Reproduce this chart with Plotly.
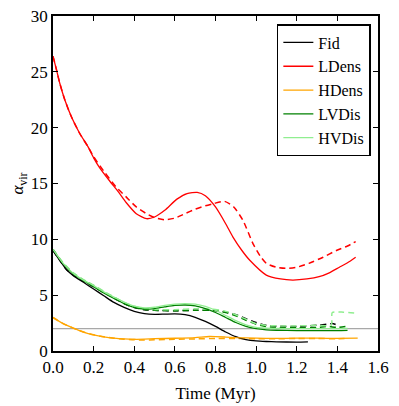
import plotly.graph_objects as go

# time grids (Myr) and virial parameter values
t_fid = [0.0, 0.03, 0.066, 0.1, 0.15, 0.2, 0.25, 0.3, 0.35, 0.4, 0.45, 0.5, 0.55, 0.6, 0.65,
         0.7, 0.75, 0.8, 0.85, 0.9, 0.95, 1.0, 1.05, 1.1, 1.2, 1.255]
fid = [9.0, 8.2, 7.3, 6.75, 6.15, 5.55, 4.95, 4.35, 3.9, 3.55, 3.35, 3.28, 3.3, 3.33, 3.25,
       3.02, 2.65, 2.2, 1.7, 1.28, 1.02, 0.9, 0.85, 0.82, 0.8, 0.82]

t_fid_d = [0.0, 0.03, 0.066, 0.1, 0.15, 0.2, 0.25, 0.3, 0.35, 0.4, 0.45, 0.5, 0.6, 0.7, 0.8,
           0.85, 0.9, 0.95, 1.0, 1.05, 1.1, 1.2, 1.3, 1.38, 1.4]
fid_d = [9.0, 8.2, 7.3, 6.8, 6.25, 5.75, 5.25, 4.75, 4.25, 3.9, 3.7, 3.65, 3.6, 3.65, 3.62,
         3.5, 3.25, 2.9, 2.55, 2.3, 2.22, 2.2, 2.3, 2.45, 2.3]

t_ld = [0.0, 0.017, 0.033, 0.058, 0.09, 0.131, 0.172, 0.2, 0.23, 0.28, 0.32, 0.36, 0.41, 0.46,
        0.5, 0.55, 0.61, 0.66, 0.71, 0.75, 0.8, 0.85, 0.886, 0.93, 0.97, 1.05, 1.12, 1.18,
        1.25, 1.31, 1.36, 1.41, 1.45, 1.49]
ldens = [26.4, 25.2, 24.0, 22.5, 21.0, 19.5, 18.3, 17.3, 16.4, 15.2, 14.3, 13.3, 12.3, 11.85,
         12.0, 12.6, 13.6, 14.1, 14.2, 13.9, 12.9, 11.4, 10.2, 9.0, 8.1, 6.8, 6.45, 6.35,
         6.45, 6.65, 7.0, 7.5, 7.9, 8.4]

t_ld_d = [0.0, 0.017, 0.033, 0.058, 0.09, 0.131, 0.172, 0.2, 0.25, 0.31, 0.36, 0.41, 0.46,
          0.5, 0.55, 0.6, 0.65, 0.7, 0.75, 0.79, 0.845, 0.89, 0.935, 0.985, 1.02, 1.05, 1.1,
          1.15, 1.2, 1.26, 1.33, 1.395, 1.45, 1.49]
ldens_d = [26.4, 25.2, 24.0, 22.5, 21.0, 19.5, 18.3, 17.4, 16.1, 14.7, 13.8, 12.9, 12.3,
           11.95, 11.75, 11.9, 12.3, 12.7, 13.0, 13.2, 13.4, 12.9, 11.7, 9.6, 8.5, 7.85, 7.5,
           7.4, 7.5, 7.85, 8.4, 9.0, 9.4, 9.8]

t_hd = [0.0, 0.05, 0.1, 0.15, 0.2, 0.25, 0.3, 0.35, 0.4, 0.45, 0.5, 0.6, 0.7, 0.77, 0.85,
        0.9, 1.0, 1.1, 1.2, 1.3, 1.4, 1.5]
hdens = [3.0, 2.45, 2.05, 1.7, 1.45, 1.27, 1.15, 1.08, 1.05, 1.06, 1.1, 1.14, 1.2, 1.3, 1.25,
         1.2, 1.15, 1.13, 1.15, 1.15, 1.13, 1.15]

t_hd_d = [0.0, 0.05, 0.1, 0.15, 0.2, 0.25, 0.3, 0.35, 0.4, 0.45, 0.5, 0.6, 0.7, 0.8, 0.9,
          1.0, 1.1, 1.2, 1.3, 1.4, 1.45]
hdens_d = [3.0, 2.45, 2.05, 1.7, 1.45, 1.27, 1.15, 1.06, 1.0, 0.98, 1.0, 1.05, 1.08, 1.12,
           1.12, 1.1, 1.1, 1.12, 1.12, 1.1, 1.12]

t_lv = [0.0, 0.05, 0.1, 0.15, 0.2, 0.25, 0.3, 0.35, 0.4, 0.45, 0.5, 0.55, 0.6, 0.65, 0.7,
        0.75, 0.8, 0.85, 0.9, 0.95, 1.0, 1.05, 1.1, 1.2, 1.3, 1.4, 1.45]
lvdis = [9.1, 7.8, 6.9, 6.3, 5.75, 5.2, 4.7, 4.25, 3.9, 3.75, 3.8, 3.95, 4.08, 4.12, 4.05,
         3.8, 3.45, 3.0, 2.55, 2.2, 2.0, 1.9, 1.86, 1.83, 1.82, 1.82, 1.84]

t_lv_d = [0.0, 0.05, 0.1, 0.15, 0.2, 0.25, 0.3, 0.35, 0.4, 0.45, 0.5, 0.6, 0.7, 0.8, 0.85,
          0.9, 0.95, 1.0, 1.05, 1.1, 1.2, 1.3, 1.35, 1.4, 1.45]
lvdis_d = [9.1, 7.85, 6.95, 6.35, 5.85, 5.3, 4.8, 4.3, 3.95, 3.72, 3.65, 3.6, 3.65, 3.62,
           3.45, 3.15, 2.75, 2.4, 2.18, 2.1, 2.08, 2.1, 2.2, 2.12, 2.22]

t_hv = [0.0, 0.05, 0.1, 0.15, 0.2, 0.25, 0.3, 0.35, 0.4, 0.45, 0.5, 0.55, 0.6, 0.65, 0.7,
        0.75, 0.8, 0.85, 0.9, 0.95, 1.0, 1.05, 1.1, 1.2, 1.3, 1.4, 1.45]
hvdis = [9.1, 7.85, 6.95, 6.35, 5.85, 5.3, 4.82, 4.38, 4.02, 3.87, 3.92, 4.08, 4.2, 4.25,
         4.2, 4.0, 3.65, 3.18, 2.72, 2.35, 2.12, 2.05, 2.02, 2.0, 2.0, 2.0, 2.02]

t_hv_d = [0.0, 0.05, 0.1, 0.15, 0.2, 0.25, 0.3, 0.35, 0.4, 0.45, 0.5, 0.6, 0.7, 0.8, 0.85,
          0.9, 0.95, 1.0, 1.05, 1.1, 1.2, 1.3, 1.37, 1.375, 1.43, 1.49]
hvdis_d = [9.1, 7.9, 7.0, 6.4, 5.9, 5.35, 4.85, 4.35, 4.0, 3.8, 3.72, 3.7, 3.78, 3.72, 3.55,
           3.25, 2.85, 2.45, 2.28, 2.25, 2.25, 2.3, 2.32, 3.45, 3.48, 3.4]

t_ref = [0.0, 1.6]
ref_line = [2.0, 2.0]

fig = go.Figure()

# reference line at alpha_vir = 2
fig.add_trace(go.Scatter(x=t_ref, y=ref_line, mode="lines", showlegend=False,
                         line=dict(color="#a8a8a8", width=1.2)))

# dashed runs first so solid ones sit on top
dash = "6px,4px"
for tx, ty, col in [(t_fid_d, fid_d, "black"), (t_ld_d, ldens_d, "#ff0000"),
                    (t_hd_d, hdens_d, "#ffa500"), (t_lv_d, lvdis_d, "#008000"),
                    (t_hv_d, hvdis_d, "#90ee90")]:
    fig.add_trace(go.Scatter(x=tx, y=ty, mode="lines", showlegend=False,
                             line=dict(color=col, width=1.5, dash=dash, shape="spline",
                                       smoothing=0.6)))

for tx, ty, col, name in [(t_fid, fid, "black", "Fid"), (t_ld, ldens, "#ff0000", "LDens"),
                          (t_hd, hdens, "#ffa500", "HDens"), (t_lv, lvdis, "#008000", "LVDis"),
                          (t_hv, hvdis, "#90ee90", "HVDis")]:
    fig.add_trace(go.Scatter(x=tx, y=ty, mode="lines", name=name,
                             line=dict(color=col, width=1.3, shape="spline", smoothing=0.6)))

axis_style = dict(showline=True, linecolor="black", linewidth=1.5, mirror="ticks",
                  ticks="inside", ticklen=5, tickwidth=1, tickcolor="black",
                  showgrid=False, zeroline=False, automargin=False,
                  ticklabeloverflow="allow")

serif = "Liberation Serif, DejaVu Serif, serif"

# the page body keeps its default 8px margin, so the figure starts 8px in
fig.update_layout(
    width=391, height=398,
    margin=dict(l=45, r=21, t=8, b=55),
    plot_bgcolor="white", paper_bgcolor="white",
    font=dict(family=serif, size=17, color="black"),
    xaxis=dict(range=[0, 1.6], dtick=0.2, tickformat=".1f",
               tickfont=dict(family=serif, size=17),
               title=dict(text="Time (Myr)", standoff=11, font=dict(family=serif, size=17)),
               **axis_style),
    yaxis=dict(range=[0, 30], dtick=5, tickfont=dict(family=serif, size=17),
               title=dict(text="<i>α</i><sub>vir</sub>", standoff=15,
                          font=dict(family=serif, size=17)),
               **axis_style),
    legend=dict(x=0.978, y=0.976, xanchor="right", yanchor="top",
                bordercolor="black", borderwidth=1.5, bgcolor="white",
                font=dict(family=serif, size=16), tracegroupgap=0),
)

fig.write_html("out.html")
